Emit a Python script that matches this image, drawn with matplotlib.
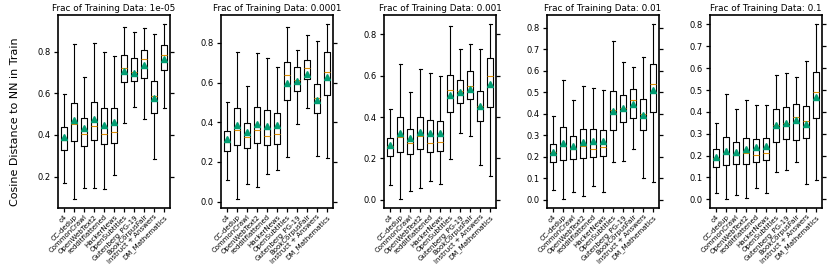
import matplotlib
matplotlib.use('Agg')
import matplotlib.pyplot as plt

DATASETS = ['c4', 'CC-dedup', 'CommonCrawl', 'OpenWebText2', 'redditflattened',
            'HackerNews', 'OpenSubtitles', 'Gutenberg_PG-19', 'BookCorpusFair',
            'Instruct + Answers', 'DM_Mathematics']
FRACS = ['1e-05', '0.0001', '0.001', '0.01', '0.1']

# per panel: whisker low, Q1, median, Q3, whisker high, mean
LO_1 = [0.170, 0.091, 0.147, 0.147, 0.139, 0.207, 0.459, 0.536, 0.475, 0.283, 0.531]
Q1_1 = [0.328, 0.371, 0.347, 0.374, 0.355, 0.363, 0.654, 0.659, 0.672, 0.507, 0.712]
MED_1 = [0.376, 0.451, 0.403, 0.443, 0.403, 0.416, 0.723, 0.702, 0.766, 0.587, 0.782]
Q3_1 = [0.437, 0.555, 0.480, 0.560, 0.530, 0.528, 0.784, 0.768, 0.806, 0.659, 0.832]
HI_1 = [0.595, 0.835, 0.678, 0.840, 0.800, 0.780, 0.918, 0.894, 0.915, 0.883, 0.934]
MEAN_1 = [0.392, 0.472, 0.432, 0.475, 0.448, 0.462, 0.707, 0.699, 0.734, 0.576, 0.763]

LO_2 = [0.109, 0.012, 0.087, 0.076, 0.138, 0.161, 0.227, 0.392, 0.471, 0.230, 0.222]
Q1_2 = [0.255, 0.284, 0.271, 0.296, 0.284, 0.291, 0.514, 0.558, 0.617, 0.447, 0.539]
MED_2 = [0.301, 0.363, 0.326, 0.361, 0.329, 0.341, 0.639, 0.615, 0.672, 0.521, 0.654]
Q3_2 = [0.355, 0.471, 0.395, 0.476, 0.462, 0.445, 0.706, 0.677, 0.714, 0.592, 0.753]
HI_2 = [0.503, 0.753, 0.583, 0.748, 0.723, 0.677, 0.879, 0.766, 0.840, 0.808, 0.896]
MEAN_2 = [0.316, 0.385, 0.353, 0.392, 0.382, 0.388, 0.598, 0.610, 0.642, 0.514, 0.627]

LO_3 = [0.073, 0.003, 0.044, 0.055, 0.090, 0.078, 0.199, 0.323, 0.307, 0.166, 0.115]
Q1_3 = [0.210, 0.229, 0.221, 0.244, 0.233, 0.236, 0.425, 0.467, 0.486, 0.383, 0.449]
MED_3 = [0.258, 0.305, 0.276, 0.307, 0.276, 0.281, 0.531, 0.527, 0.551, 0.454, 0.598]
Q3_3 = [0.300, 0.399, 0.342, 0.401, 0.386, 0.380, 0.603, 0.577, 0.622, 0.528, 0.687]
HI_3 = [0.439, 0.657, 0.523, 0.633, 0.614, 0.599, 0.840, 0.730, 0.754, 0.729, 0.850]
MEAN_3 = [0.263, 0.323, 0.299, 0.330, 0.323, 0.325, 0.507, 0.522, 0.533, 0.451, 0.561]

LO_4 = [0.047, 0.003, 0.036, 0.016, 0.067, 0.036, 0.174, 0.183, 0.239, 0.104, 0.085]
Q1_4 = [0.174, 0.186, 0.190, 0.194, 0.199, 0.202, 0.323, 0.362, 0.381, 0.326, 0.407]
MED_4 = [0.222, 0.253, 0.236, 0.252, 0.238, 0.244, 0.419, 0.427, 0.466, 0.401, 0.541]
Q3_4 = [0.261, 0.337, 0.298, 0.329, 0.329, 0.326, 0.508, 0.486, 0.517, 0.469, 0.632]
HI_4 = [0.388, 0.559, 0.466, 0.531, 0.520, 0.511, 0.738, 0.642, 0.617, 0.663, 0.819]
MEAN_4 = [0.222, 0.267, 0.253, 0.270, 0.273, 0.273, 0.413, 0.427, 0.446, 0.393, 0.513]

LO_5 = [0.027, 0.000, 0.018, 0.005, 0.050, 0.027, 0.126, 0.134, 0.172, 0.069, 0.087]
Q1_5 = [0.149, 0.155, 0.162, 0.163, 0.171, 0.180, 0.264, 0.277, 0.271, 0.280, 0.373]
MED_5 = [0.190, 0.210, 0.203, 0.212, 0.204, 0.213, 0.338, 0.350, 0.376, 0.358, 0.492]
Q3_5 = [0.232, 0.285, 0.261, 0.279, 0.277, 0.280, 0.414, 0.422, 0.434, 0.425, 0.584]
HI_5 = [0.350, 0.480, 0.411, 0.454, 0.431, 0.430, 0.568, 0.579, 0.559, 0.631, 0.803]
MEAN_5 = [0.194, 0.222, 0.218, 0.229, 0.239, 0.242, 0.340, 0.350, 0.363, 0.346, 0.469]

PANELS = [(LO_1, Q1_1, MED_1, Q3_1, HI_1, MEAN_1),
          (LO_2, Q1_2, MED_2, Q3_2, HI_2, MEAN_2),
          (LO_3, Q1_3, MED_3, Q3_3, HI_3, MEAN_3),
          (LO_4, Q1_4, MED_4, Q3_4, HI_4, MEAN_4),
          (LO_5, Q1_5, MED_5, Q3_5, HI_5, MEAN_5)]
YTICKS = [[0.2, 0.4, 0.6, 0.8],
          [0.0, 0.2, 0.4, 0.6, 0.8],
          [0.0, 0.2, 0.4, 0.6, 0.8],
          [0.0, 0.1, 0.2, 0.3, 0.4, 0.5, 0.6, 0.7, 0.8],
          [0.0, 0.1, 0.2, 0.3, 0.4, 0.5, 0.6, 0.7, 0.8]]

ORANGE = '#de8f05'
GREEN = '#029e73'

fig = plt.figure(figsize=(8.3, 2.64), dpi=100)
for i, (lo, q1, med, q3, hi, mean) in enumerate(PANELS):
    ax = fig.add_axes([0.0699 + i * 0.1964, 0.212, 0.135, 0.731])
    stats = [dict(whislo=a, q1=b, med=c, q3=d, whishi=e, mean=f, fliers=[], label=n)
             for a, b, c, d, e, f, n in zip(lo, q1, med, q3, hi, mean, DATASETS)]
    ax.bxp(stats, widths=0.6, showmeans=True, showfliers=False,
           boxprops=dict(color='black', linewidth=0.8),
           whiskerprops=dict(color='black', linewidth=0.8),
           capprops=dict(color='black', linewidth=0.8),
           medianprops=dict(color=ORANGE, linewidth=0.8),
           meanprops=dict(marker='^', markerfacecolor=GREEN,
                          markeredgecolor=GREEN, markersize=4.5))
    ax.set_xlim(0.4, 11.6)
    ax.set_yticks(YTICKS[i])
    ax.set_yticklabels([f'{v:.1f}' for v in YTICKS[i]])
    ax.tick_params(axis='y', right=True, labelright=False, labelsize=6,
                   length=3, width=0.9, pad=2)
    ax.tick_params(axis='x', labelsize=5, length=3, width=0.9, pad=1)
    plt.setp(ax.get_xticklabels(), rotation=45, ha='right', rotation_mode='anchor')
    for s in ax.spines.values():
        s.set_linewidth(1.2)
    ax.set_title(f'Frac of Training Data: {FRACS[i]}', fontsize=6.4, pad=3)

fig.text(0.018, 0.54, 'Cosine Distance to NN in Train', rotation=90,
         va='center', ha='center', fontsize=8)
fig.savefig('out.png', dpi=100)
